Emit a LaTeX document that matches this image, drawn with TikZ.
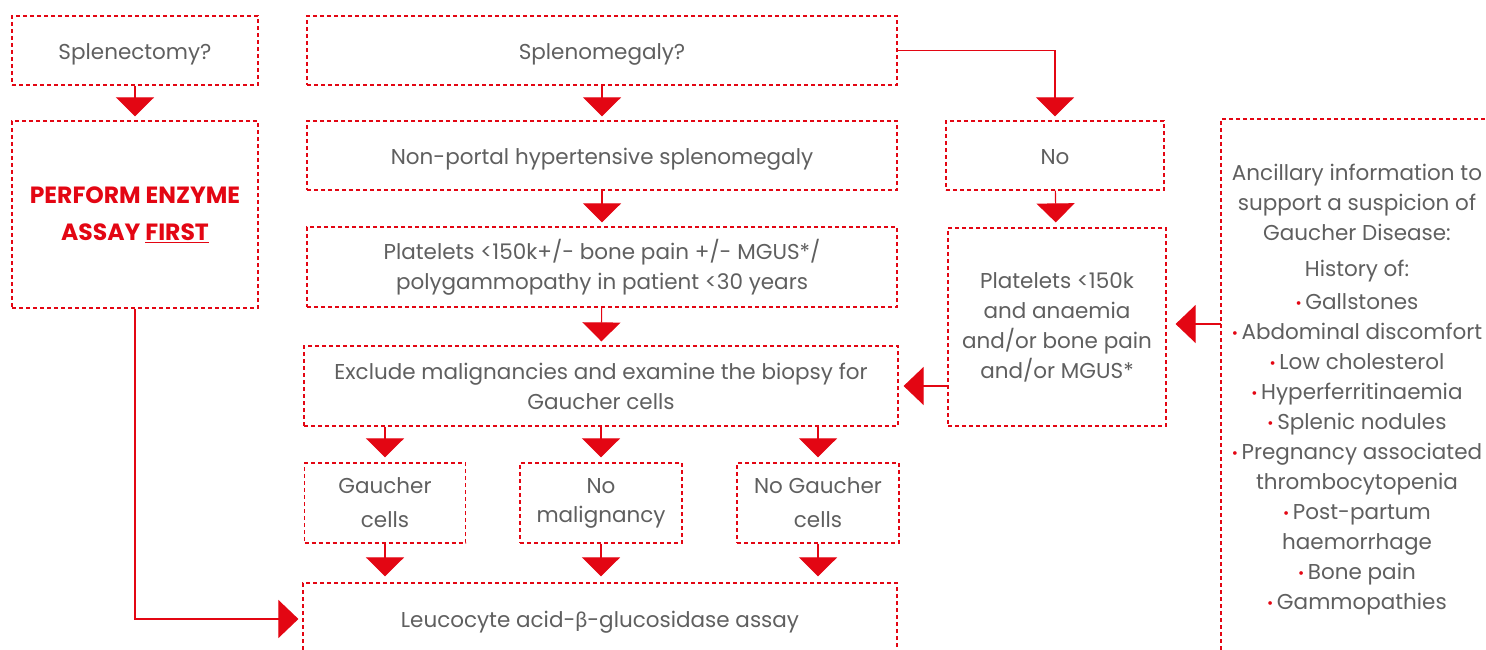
\documentclass[tikz,border=0pt]{standalone}
\usepackage{fontspec}
\setmainfont{Poppins}
\newfontfamily\grkfont{Lato}
\usetikzlibrary{arrows.meta}
\definecolor{ared}{RGB}{227,6,19}
\definecolor{tgray}{RGB}{95,95,95}
\newcommand\bul{{\color{ared}\raisebox{1pt}{\fontsize{15}{15}\selectfont\textbullet}}\,}
\begin{document}
\begin{tikzpicture}[x=1pt,y=-1pt,
  box/.style={draw=ared, line width=1.2pt, dash pattern=on 4pt off 3pt, text=tgray, align=center, inner sep=0pt, font=\fontsize{21.5}{30}\selectfont},
  oneline/.style={text height=19.5pt, text depth=2pt},
  conn/.style={draw=ared, line width=1.1pt, -{Triangle[width=38pt,length=19pt]}},
  connh/.style={draw=ared, line width=1.1pt, -{Triangle[width=38pt,length=20pt]}},
  panel/.style={draw=ared, line width=1.2pt, dash pattern=on 4pt off 3pt},
  ptext/.style={text=tgray, align=center, inner sep=0pt, font=\fontsize{21.5}{30}\selectfont}]
\useasboundingbox (0,0) rectangle (1486,650);
% left column
\node[box, oneline, minimum width=246, minimum height=69] (splx) at (135,50.5) {Splenectomy?};
\node[box, minimum width=246, minimum height=187, text=ared, font=\fontsize{23.5}{37}\selectfont\bfseries] (perf) at (135,214.5) {PERFORM ENZYME\\ASSAY \underline{FIRST}};
% main column
\node[box, oneline, minimum width=590, minimum height=69] (splm) at (602,50.5) {Splenomegaly?};
\node[box, oneline, minimum width=590, minimum height=69] (np) at (602,155.5) {Non-portal hypertensive splenomegaly};
\node[box, minimum width=590, minimum height=80] (pl) at (602,267) {Platelets <150k+/- bone pain +/- MGUS*/\\polygammopathy in patient <30 years};
\node[box, minimum width=594, minimum height=80] (ex) at (601,386) {Exclude malignancies and examine the biopsy for\\Gaucher cells};
\node[box, minimum width=161, minimum height=80, font=\fontsize{21.5}{34}\selectfont] (gc) at (385,503) {Gaucher\\cells};
\node[box, minimum width=162, minimum height=80, font=\fontsize{21.5}{29}\selectfont] (nm) at (601,503) {No\\malignancy};
\node[box, minimum width=162, minimum height=80, font=\fontsize{21.5}{34}\selectfont] (ngc) at (818,503) {No Gaucher\\cells};
\node[box, oneline, minimum width=594, minimum height=72] (leu) at (600,619) {Leucocyte acid-{\grkfont β}-glucosidase assay};
% right column
\node[box, oneline, minimum width=218, minimum height=69] (no) at (1055,155.5) {No};
\node[box, minimum width=218, minimum height=198] (pr) at (1057,327) {Platelets <150k\\and anaemia\\and/or bone pain\\and/or MGUS*};
% ancillary panel
\draw[panel] (1492,119) -- (1221,119) -- (1221,660);
\coordinate (pa) at (1221,324);
\node[ptext] (anc) at (1357,390) {Ancillary information to\\support a suspicion of\\Gaucher Disease:\\[6pt]History of:\\[3pt]\bul Gallstones\\\bul Abdominal discomfort\\\bul Low cholesterol\\\bul Hyperferritinaemia\\\bul Splenic nodules\\\bul Pregnancy associated\\thrombocytopenia\\\bul Post-partum\\haemorrhage\\\bul Bone pain\\\bul Gammopathies};
% connectors
\draw[conn, shorten >=4pt] (splx) -- (perf);
\draw[conn, shorten >=4pt] (splm) -- (np);
\draw[conn, shorten >=4pt] (np) -- (pl);
\draw[conn, shorten >=4pt] (pl) -- (ex);
\draw[conn, shorten >=4pt] (splm.east) -| (no);
\draw[conn, shorten >=5pt] (no) -- (pr);
\draw[conn, shorten >=5pt] (ex.south -| gc) -- (gc);
\draw[conn, shorten >=5pt] (ex.south -| nm) -- (nm);
\draw[conn, shorten >=5pt] (ex.south -| ngc) -- (ngc);
\draw[conn, shorten >=6pt] (gc) -- (gc |- leu.north);
\draw[conn, shorten >=6pt] (nm) -- (nm |- leu.north);
\draw[conn, shorten >=6pt] (ngc) -- (ngc |- leu.north);
\draw[connh, shorten >=4pt] (perf) |- (leu.west);
\draw[connh, shorten >=5pt] (pr.west |- ex.east) -- (ex.east);
\draw[connh, shorten >=9pt] (pa) -- (pr.east |- pa);
\end{tikzpicture}
\end{document}
